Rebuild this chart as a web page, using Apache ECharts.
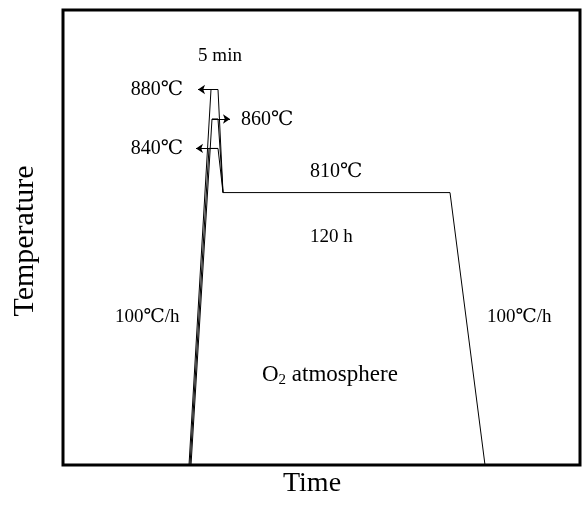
<!DOCTYPE html>
<html>
<head>
<meta charset="utf-8">
<script src="https://cdn.jsdelivr.net/npm/echarts@6/dist/echarts.min.js"></script>
<style>
  html, body { margin: 0; padding: 0; background: #fff; }
  #chart { width: 587px; height: 507px; }
</style>
</head>
<body>
<div id="chart"></div>
<script>
// schematic time units along x, temperature (°C) along y
const baseTemp = 625; // bottom of the schematic
const topTemp = 934;

const time880 = [126, 148, 155, 160, 387, 422];
const temp880 = [baseTemp, 880, 880, 810, 810, baseTemp];
const time860 = [128, 149, 155, 160];
const temp860 = [baseTemp, 860, 860, 810];
const time840 = [127, 146, 155, 160];
const temp840 = [baseTemp, 840, 840, 810];

// annotation arrows: [temperature, from time, to time]
const arrows = [
  [880, 148, 135],
  [860, 149, 167],
  [840, 155, 133],
];

const SERIF = '"Liberation Serif", "DejaVu Serif", "Noto Sans CJK SC", serif';

const toPairs = (xs, ys) => xs.map((x, i) => [x, ys[i]]);

const chart = echarts.init(document.getElementById("chart"));

const lineSeries = (name, xs, ys) => ({
  name,
  type: "line",
  data: toPairs(xs, ys),
  symbol: "none",
  lineStyle: { color: "#000", width: 1 },
  silent: true,
});

const series = [
  lineSeries("880", time880, temp880),
  lineSeries("860", time860, temp860),
  lineSeries("840", time840, temp840),
];

series[0].markLine = {
  silent: true,
  symbol: ["none", "arrow"],
  symbolSize: 7,
  label: { show: false },
  lineStyle: { color: "#000", width: 1, type: "solid" },
  data: arrows.map(a => [{ coord: [a[1], a[0]] }, { coord: [a[2], a[0]] }]),
};

const txt = (text, x, y, size, align) => ({
  type: "text",
  x,
  y,
  silent: true,
  style: {
    text,
    font: `${size}px ${SERIF}`,
    fill: "#000",
    textAlign: align || "left",
    textVerticalAlign: "middle",
  },
});

const option = {
  animation: false,
  grid: {
    show: true,
    left: 63,
    right: 7,
    top: 10,
    bottom: 42,
    borderColor: "#000",
    borderWidth: 3,
    containLabel: false,
  },
  xAxis: {
    type: "value",
    min: 0,
    max: 517,
    show: false,
  },
  yAxis: {
    type: "value",
    min: baseTemp,
    max: topTemp,
    show: false,
  },
  series,
  graphic: [
    txt("5 min", 220, 56, 19, "center"),
    txt("880℃", 183, 90, 20, "right"),
    txt("860℃", 241, 120, 20, "left"),
    txt("840℃", 183, 149, 20, "right"),
    txt("810℃", 310, 172, 20, "left"),
    txt("120 h", 310, 237, 19, "left"),
    txt("100℃/h", 115, 317, 19, "left"),
    txt("100℃/h", 487, 317, 19, "left"),
    {
      type: "text",
      x: 262,
      y: 375,
      silent: true,
      style: {
        text: "{n|O}{s|2}{n| atmosphere}",
        textVerticalAlign: "middle",
        rich: {
          n: { font: `23px ${SERIF}`, fill: "#000", lineHeight: 26, verticalAlign: "middle" },
          s: { font: `15px ${SERIF}`, fill: "#000", lineHeight: 14, verticalAlign: "bottom" },
        },
      },
    },
    txt("Time", 312, 484, 28, "center"),
    {
      ...txt("Temperature", 0, 0, 30, "center"),
      x: 25,
      y: 241,
      rotation: Math.PI / 2,
    },
  ],
};

chart.setOption(option);
</script>
</body>
</html>
